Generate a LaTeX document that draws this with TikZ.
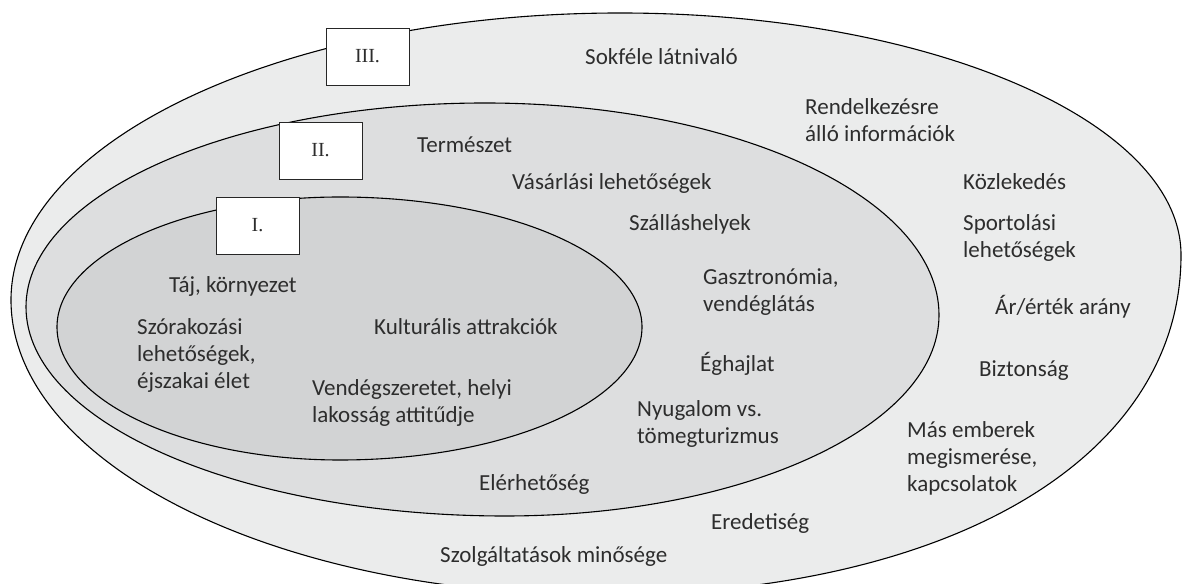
\documentclass[tikz,border=0pt]{standalone}
\usepackage{fontspec}
\setmainfont{Carlito}
\newfontfamily\boxfont{Liberation Serif}
\definecolor{ringA}{RGB}{235,236,236}
\definecolor{ringB}{RGB}{221,222,223}
\definecolor{ringC}{RGB}{210,211,212}
\definecolor{txt}{RGB}{45,45,45}
\tikzset{
  ringline/.style={draw=black, line width=1.1pt},
  lvlbox/.style={draw=black!85, line width=0.9pt, fill=white, minimum width=83pt, minimum height=57pt, inner sep=0pt, font=\boxfont\fontsize{20}{22}\selectfont, text=txt},
  lbl/.style={anchor=base west, inner sep=0pt, align=left, text=txt, font=\fontsize{23}{27}\selectfont}
}
\begin{document}
\begin{tikzpicture}[x=1pt,y=1pt]
\useasboundingbox (0,0) rectangle (1182,583);
% outer ring (III)
\path[ringline, fill=ringA] (620,570)
  arc[start angle=90, end angle=0, x radius=561, y radius=242]
  .. controls (1181,124) and (949,-12) .. (600,-12)
  arc[start angle=270, end angle=180, x radius=589, y radius=295]
  arc[start angle=180, end angle=90, x radius=609, y radius=287] -- cycle;
% middle ring (II)
\path[ringline, fill=ringB] (485,480)
  arc[start angle=90, end angle=0, x radius=454, y radius=212]
  arc[start angle=0, end angle=-90, x radius=434, y radius=201]
  arc[start angle=270, end angle=180, x radius=479, y radius=209]
  arc[start angle=180, end angle=90, x radius=459, y radius=204] -- cycle;
% inner ring (I)
\path[ringline, fill=ringC] (340,386)
  arc[start angle=90, end angle=0, x radius=302, y radius=130]
  arc[start angle=0, end angle=-90, x radius=302, y radius=133]
  arc[start angle=270, end angle=180, x radius=283, y radius=133]
  arc[start angle=180, end angle=90, x radius=283, y radius=130] -- cycle;
% level boxes
\node[lvlbox] (b3) at (367.5,526.5) {III.};
\node[lvlbox] (b2) at (320.5,432.5) {II.};
\node[lvlbox] (b1) at (257.5,357.5) {I.};
% labels (multi-line nodes: base = baseline of last line)
\node[lbl] (t1) at (585,518) {Sokféle látnivaló};
\node[lbl] (t2) at (805,441) {Rendelkezésre\\álló információk};
\node[lbl] (t3) at (417,430) {Természet};
\node[lbl] (t4) at (512,393) {Vásárlási lehetőségek};
\node[lbl] (t5) at (963,393) {Közlekedés};
\node[lbl] (t6) at (629,352) {Szálláshelyek};
\node[lbl] (t7) at (963,325) {Sportolási\\lehetőségek};
\node[lbl] (t8) at (169,290) {Táj, környezet};
\node[lbl] (t9) at (703,271) {Gasztronómia,\\vendéglátás};
\node[lbl] (t10) at (995,268) {Ár/érték arány};
\node[lbl] (t11) at (137,194) {Szórakozási\\lehetőségek,\\éjszakai élet};
\node[lbl] (t12) at (374,248) {Kulturális attrakciók};
\node[lbl] (t13) at (700,211) {Éghajlat};
\node[lbl] (t14) at (979,206) {Biztonság};
\node[lbl] (t15) at (312,160) {Vendégszeretet, helyi\\lakosság attitűdje};
\node[lbl] (t16) at (637,139) {Nyugalom vs.\\tömegturizmus};
\node[lbl] (t17) at (907,91) {Más emberek\\megismerése,\\kapcsolatok};
\node[lbl] (t18) at (479,92) {Elérhetőség};
\node[lbl] (t19) at (711,53) {Eredetiség};
\node[lbl] (t20) at (440,20) {Szolgáltatások minősége};
\end{tikzpicture}
\end{document}
